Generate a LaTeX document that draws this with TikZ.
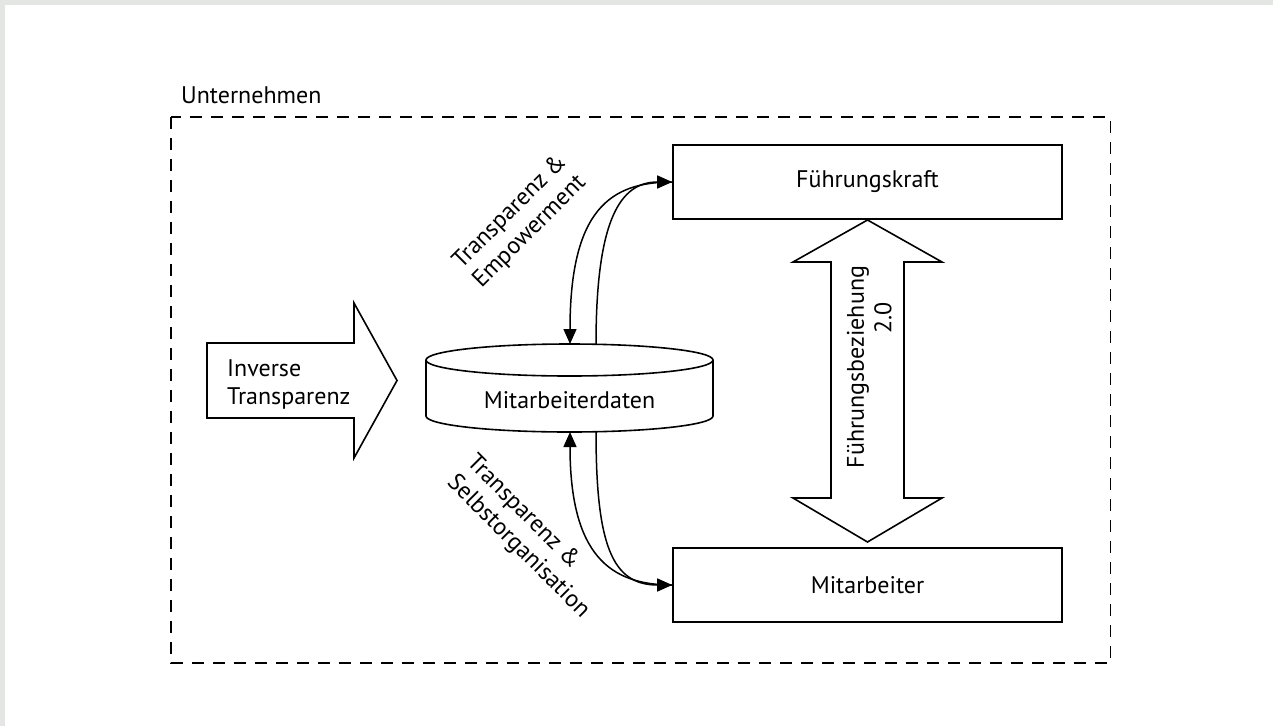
\documentclass[tikz,border=0pt]{standalone}
\usepackage{fontspec}
\setmainfont{PT Sans}
\usetikzlibrary{arrows.meta}
\definecolor{edgegray}{HTML}{E4E6E3}
\tikzset{
  lbl/.style={font=\fontsize{24}{28}\selectfont, inner sep=0pt},
  box/.style={draw, line width=1.6pt, minimum width=389pt, minimum height=74pt, inner sep=0pt, font=\fontsize{24}{28}\selectfont},
  outline/.style={draw, line width=1.6pt, line join=miter},
  frame/.style={draw, line width=1.6pt, dash pattern=on 12pt off 9pt},
  flow/.style={line width=1.5pt, -{Triangle[length=15pt,width=13pt]}},
}
\begin{document}
\begin{tikzpicture}[x=1pt, y=-1pt]
  % page background with the thin grey edge at top and left
  \fill[edgegray] (0,0) rectangle (1273,726);
  \fill[white] (4.5,4.5) rectangle (1273,726);
  \useasboundingbox (0,0) rectangle (1273,726);

  % company frame
  \draw[frame] (171,117) rectangle (1110.5,663);
  \node[lbl, anchor=base west] (company) at (181,103) {Unternehmen};

  % input arrow
  \draw[outline] (207,343) -- (354,343) -- (354,303) -- (397,380.5)
    -- (354,458) -- (354,418) -- (207,418) -- cycle;
  \node[lbl, align=left, anchor=west] (inverse) at (227,384) {Inverse\\Transparenz};

  % employee data store (cylinder)
  \draw[outline, fill=white] (426,360) -- (426,416)
    arc[start angle=180, end angle=360, x radius=143.5pt, y radius=16pt]
    -- (713,360)
    arc[start angle=0, end angle=180, x radius=143.5pt, y radius=16pt] -- cycle;
  \draw[outline] (426,360)
    arc[start angle=180, end angle=360, x radius=143.5pt, y radius=16pt];
  \node[lbl] (data) at (569.5,400) {Mitarbeiterdaten};
  \coordinate (dataTopL) at (570,344);
  \coordinate (dataTopR) at (596,344.5);
  \coordinate (dataBotL) at (570,432);
  \coordinate (dataBotR) at (596,431.5);

  % roles
  \node[box] (lead) at (867.5,182) {Führungskraft};
  \node[box] (staff) at (867.5,585) {Mitarbeiter};

  % leadership relation (double arrow)
  \draw[outline] (867.5,220) -- (942,262) -- (904,262) -- (904,498) -- (942,498)
    -- (867.5,542) -- (793,498) -- (831,498) -- (831,262) -- (793,262) -- cycle;
  \node[lbl, rotate=90] (rel) at (858,367) {Führungsbeziehung};
  \node[lbl, rotate=90] (relver) at (883,318) {2.0};

  % flows between data store and roles
  \draw[flow] (lead.west) .. controls (610,182) and (570,210) .. (dataTopL);
  \draw[flow] (dataTopR) .. controls (596,220) and (620,182) .. (lead.west);
  \draw[flow] (staff.west) .. controls (610,585) and (570,555) .. (dataBotL);
  \draw[flow] (dataBotR) .. controls (596,545) and (612,585) .. (staff.west);

  \node[lbl, align=left, rotate=45] (upLabel) at (520,222) {Transparenz \&\\Empowerment};
  \node[lbl, align=left, rotate=-45] (downLabel) at (528,537) {Transparenz \&\\Selbstorganisation};
\end{tikzpicture}
\end{document}
